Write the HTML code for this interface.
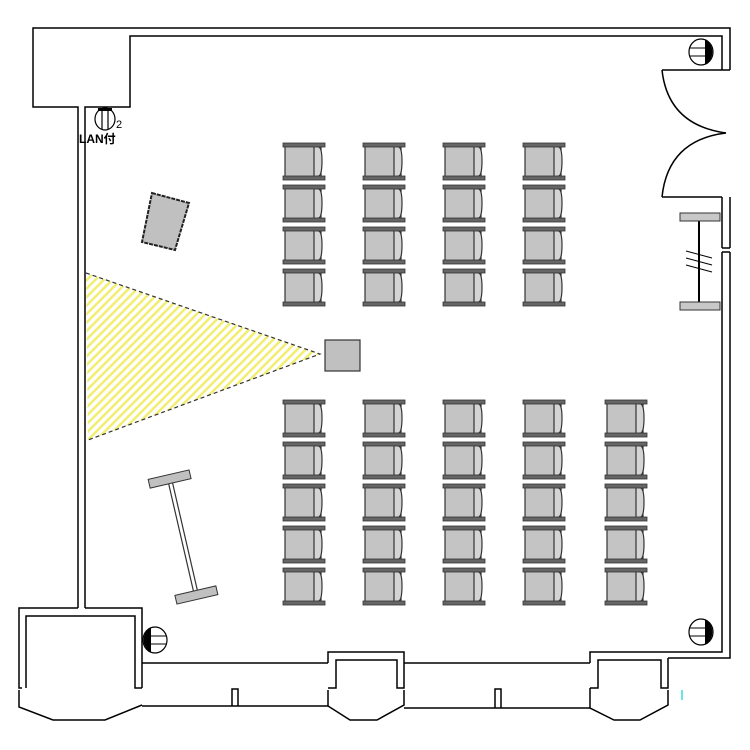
<!DOCTYPE html>
<html><head><meta charset="utf-8"><style>
html,body{margin:0;padding:0;background:#fff;width:750px;height:750px;overflow:hidden}
svg{display:block}
</style></head><body>
<svg width="750" height="750" viewBox="0 0 750 750" xmlns="http://www.w3.org/2000/svg">
<defs>
<pattern id="hatch" width="6" height="6" patternUnits="userSpaceOnUse" patternTransform="rotate(45)">
<rect width="6" height="6" fill="#fff"/><rect width="2.5" height="6" fill="#f2ee70"/>
</pattern>
<g id="chair">
<rect x="2" y="2" width="36" height="33" fill="#c4c4c4" stroke="#333" stroke-width="1.2"/>
<path d="M31 3 L36 4 Q39 6 39 18 Q39 31 36 33 L31 34 Z" fill="#d4d4d4" stroke="#333" stroke-width="1.2"/>
<rect x="0" y="0" width="42" height="4" fill="#666" stroke="#333" stroke-width="0.8"/>
<rect x="0" y="33" width="42" height="4" fill="#666" stroke="#333" stroke-width="0.8"/>
</g>
<g id="outlet">
<ellipse cx="0" cy="0" rx="12" ry="13" fill="#fff" stroke="#000" stroke-width="1.2"/>
<path d="M4 -12 A12 13 0 0 1 4 12 Z" fill="#000"/>
<line x1="-11" y1="-4" x2="5" y2="-4" stroke="#000"/>
<line x1="-11" y1="4" x2="5" y2="4" stroke="#000"/>
</g>
</defs>
<g fill="none" stroke="#000" stroke-width="1.5">
<polyline points="78,608 78,107 33,107 33,28 730,28 730,70"/>
<polyline points="85,608 85,107 130,107 130,36 722,36 722,70"/>
<polyline points="730,70 662,70"/>
<path d="M662 70 Q668 125 726 133"/>
<path d="M662 197 Q668 140 726 133"/>
<polyline points="662,197 722,197"/>
<polyline points="722,197 722,248"/>
<polyline points="730,197 730,248"/>
<polyline points="722,248 730,248"/>
<polyline points="722,252 730,252"/>
<polyline points="722,252 722,652 668,652"/>
<polyline points="730,252 730,658 668,658"/>
<polyline points="78,608 19,608 19,688 22,688"/>
<polyline points="85,608 142,608 142,688"/>
<polyline points="26,688 26,616 135,616 135,688 142,688"/>
<polyline points="19,690 19,707 53,720 105,720 142,705"/>
<line x1="142" y1="663" x2="328" y2="663"/>
<line x1="142" y1="706" x2="328" y2="706"/>
<polyline points="232,706 232,689 238,689 238,706"/>
<polyline points="328,663 328,652 404,652 404,688 397,688 397,660 336,660 336,688 328,688"/>
<polyline points="328,690 328,706 350,720 377,720 404,705 404,690"/>
<line x1="404" y1="663" x2="590" y2="663"/>
<line x1="404" y1="708" x2="590" y2="708"/>
<polyline points="495,708 495,689 501,689 501,708"/>
<polyline points="590,663 590,652 668,652"/>
<polyline points="590,688 598,688 598,660 661,660 661,688 668,688 668,658"/>
<polyline points="590,688 590,708 614,720 640,720 668,705 668,690"/>
</g>
<line x1="682" y1="690" x2="682" y2="700" stroke="#3dd" stroke-width="1.5"/>
<use href="#outlet" transform="translate(701,52)"/>
<use href="#outlet" transform="translate(701,632)"/>
<use href="#outlet" transform="translate(155,640) scale(-1,1)"/>
<g transform="translate(105,119)">
<ellipse cx="0" cy="0" rx="10" ry="11" fill="#fff" stroke="#000" stroke-width="1.2"/>
<rect x="-7" y="-11" width="14" height="3" fill="#000"/>
<line x1="-3" y1="-9" x2="-3" y2="10" stroke="#000" stroke-width="1.2"/>
<line x1="3" y1="-9" x2="3" y2="10" stroke="#000" stroke-width="1.2"/>
</g>
<text x="116" y="128" font-family="Liberation Sans, sans-serif" font-size="11" fill="#000">2</text>
<text x="79" y="143" font-family="Liberation Sans, 'Noto Sans CJK JP', sans-serif" font-size="12" font-weight="bold" fill="#000">LAN付</text>
<polygon points="152,193 189,203 175,250 142,242" fill="#c0c0c0" stroke="#222" stroke-width="2" stroke-dasharray="4,1"/>
<polygon points="86,273 320,354 88,440" fill="url(#hatch)"/>
<polyline points="86,273 320,354 88,440" fill="none" stroke="#333" stroke-width="1.2" stroke-dasharray="4,3"/>
<rect x="325" y="340" width="35" height="31" fill="#c0c0c0" stroke="#333" stroke-width="1.2"/>
<g transform="translate(183,537) rotate(-13)">
<line x1="-2" y1="-60" x2="-2" y2="60" stroke="#333" stroke-width="1.2"/>
<line x1="2" y1="-60" x2="2" y2="60" stroke="#333" stroke-width="1.2"/>
<rect x="-21" y="-64" width="42" height="9" fill="#c0c0c0" stroke="#333"/>
<rect x="-21" y="55" width="42" height="9" fill="#c0c0c0" stroke="#333"/>
</g>
<line x1="699" y1="215" x2="699" y2="310" stroke="#000" stroke-width="2"/>
<rect x="680" y="213" width="40" height="8" fill="#c8c8c8" stroke="#333"/>
<rect x="680" y="302" width="40" height="8" fill="#c8c8c8" stroke="#333"/>
<g stroke="#000" stroke-width="1"><line x1="686" y1="251" x2="712" y2="258"/><line x1="686" y1="258" x2="712" y2="265"/><line x1="686" y1="265" x2="712" y2="272"/></g>
<g>
<use href="#chair" x="283" y="143"/><use href="#chair" x="283" y="185"/><use href="#chair" x="283" y="227"/><use href="#chair" x="283" y="269"/>
<use href="#chair" x="363" y="143"/><use href="#chair" x="363" y="185"/><use href="#chair" x="363" y="227"/><use href="#chair" x="363" y="269"/>
<use href="#chair" x="443" y="143"/><use href="#chair" x="443" y="185"/><use href="#chair" x="443" y="227"/><use href="#chair" x="443" y="269"/>
<use href="#chair" x="523" y="143"/><use href="#chair" x="523" y="185"/><use href="#chair" x="523" y="227"/><use href="#chair" x="523" y="269"/>
</g>
<g>
<use href="#chair" x="283" y="400"/><use href="#chair" x="283" y="442"/><use href="#chair" x="283" y="484"/><use href="#chair" x="283" y="526"/><use href="#chair" x="283" y="568"/>
<use href="#chair" x="363" y="400"/><use href="#chair" x="363" y="442"/><use href="#chair" x="363" y="484"/><use href="#chair" x="363" y="526"/><use href="#chair" x="363" y="568"/>
<use href="#chair" x="443" y="400"/><use href="#chair" x="443" y="442"/><use href="#chair" x="443" y="484"/><use href="#chair" x="443" y="526"/><use href="#chair" x="443" y="568"/>
<use href="#chair" x="523" y="400"/><use href="#chair" x="523" y="442"/><use href="#chair" x="523" y="484"/><use href="#chair" x="523" y="526"/><use href="#chair" x="523" y="568"/>
<use href="#chair" x="605" y="400"/><use href="#chair" x="605" y="442"/><use href="#chair" x="605" y="484"/><use href="#chair" x="605" y="526"/><use href="#chair" x="605" y="568"/>
</g>
</svg>
</body></html>
